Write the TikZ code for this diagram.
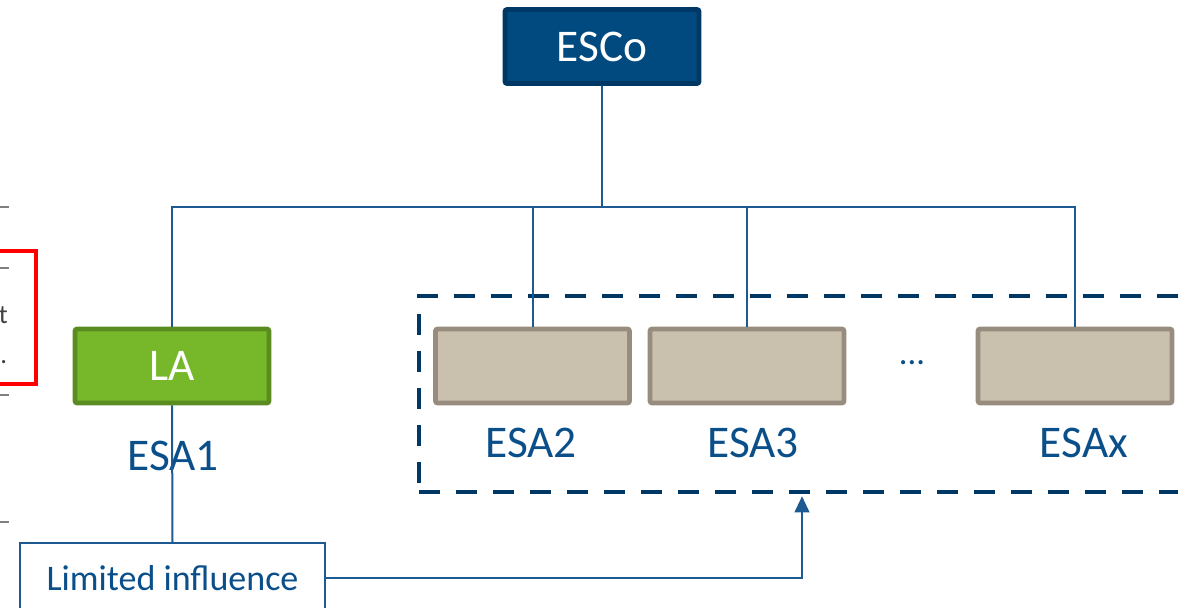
\documentclass[tikz,border=0pt]{standalone}
\usepackage{fontspec}
\setmainfont{Carlito}
\usetikzlibrary{arrows.meta}
\definecolor{escofill}{HTML}{004A80}
\definecolor{escoline}{HTML}{003865}
\definecolor{lafill}{HTML}{76B82A}
\definecolor{laline}{HTML}{5B8C22}
\definecolor{esafill}{HTML}{C9C1AE}
\definecolor{esaline}{HTML}{978C7E}
\definecolor{txtblue}{HTML}{0B4F8A}
\definecolor{conn}{HTML}{1D5A92}
\definecolor{tickgray}{HTML}{7F7F7F}
\definecolor{darktxt}{HTML}{404040}
\tikzset{
  bigbox/.style={draw, line width=3.5pt, rounded corners=1.5pt, minimum width=145.5pt, minimum height=55.5pt, inner sep=0pt, font=\fontsize{34}{40}\selectfont},
  escobox/.style={bigbox, fill=escofill, draw=escoline, text=white},
  labox/.style={bigbox, fill=lafill, draw=laline, text=white},
  esabox/.style={bigbox, fill=esafill, draw=esaline},
  esalabel/.style={text=txtblue, inner sep=0pt, font=\fontsize{34}{40}\selectfont},
  connline/.style={draw=conn, line width=1.5pt},
  grpbox/.style={draw=escoline, line width=3.2pt, dash pattern=on 15.75pt off 12pt, minimum width=585.75pt, minimum height=147pt, inner sep=0pt},
  limbox/.style={draw=conn, line width=1.2pt, minimum width=228.75pt, minimum height=52.5pt, inner sep=0pt, text=txtblue, font=\fontsize{27}{32}\selectfont},
  tickline/.style={draw=tickgray, line width=1.2pt},
}
\begin{document}
\begin{tikzpicture}[x=0.75pt,y=-0.75pt]
\useasboundingbox (0,0) rectangle (1178,607);
\clip (0,0) rectangle (1178,607);

% cropped elements on the left edge
\coordinate (t1a) at (0,207); \coordinate (t1b) at (9,207);
\coordinate (t2a) at (0,268); \coordinate (t2b) at (9,268);
\coordinate (t3a) at (0,395); \coordinate (t3b) at (9,395);
\coordinate (t4a) at (0,522); \coordinate (t4b) at (9,522);
\draw[tickline] (t1a) -- (t1b);
\draw[tickline] (t2a) -- (t2b);
\draw[tickline] (t3a) -- (t3b);
\draw[tickline] (t4a) -- (t4b);
\node[draw=red, line width=3.2pt, minimum width=64.5pt, minimum height=99.75pt, inner sep=0pt] (redbox) at (-7,317.5) {};
\node[anchor=base east, inner sep=0pt, text=darktxt, font=\fontsize{20}{24}\selectfont] (tt) at (8,323) {t};
\node[anchor=base west, inner sep=0pt, text=darktxt, font=\fontsize{20}{24}\selectfont] (tdot) at (0,363) {.};

% group
\node[grpbox] (grp) at (809.5,394) {};

% boxes
\node[escobox] (esco) at (602,46.5) {ESCo};
\node[labox] (la) at (172,366) {LA};
\node[esabox] (esa2) at (532.5,366) {};
\node[esabox] (esa3) at (747,366) {};
\node[esabox] (esax) at (1075,366) {};

% labels
\node[esalabel] (l1) at (173,456) {ESA1};
\node[esalabel] (l2) at (531,443) {ESA2};
\node[esalabel] (l3) at (753,443) {ESA3};
\node[esalabel] (lx) at (1084,443) {ESAx};
\node[text=txtblue, inner sep=0pt, font=\fontsize{26}{30}\selectfont, anchor=base] (dots) at (912,364) {...};

% tree
\coordinate (bus) at (602,207);
\draw[connline] (esco.south) -- (bus) -| (la.north);
\draw[connline] (bus) -| (esa2.north);
\draw[connline] (bus) -| (esa3.north);
\draw[connline] (bus) -| (esax.north);

% limited influence
\node[limbox] (lim) at (172.5,578) {Limited influence};
\draw[connline] (la.south) -- (lim.north);
\coordinate (arr) at (802,0);
\draw[connline, -{Triangle[width=11pt,length=12pt]}] (lim.east) -| ([yshift=-1.6pt]arr |- grp.south);
\end{tikzpicture}
\end{document}
